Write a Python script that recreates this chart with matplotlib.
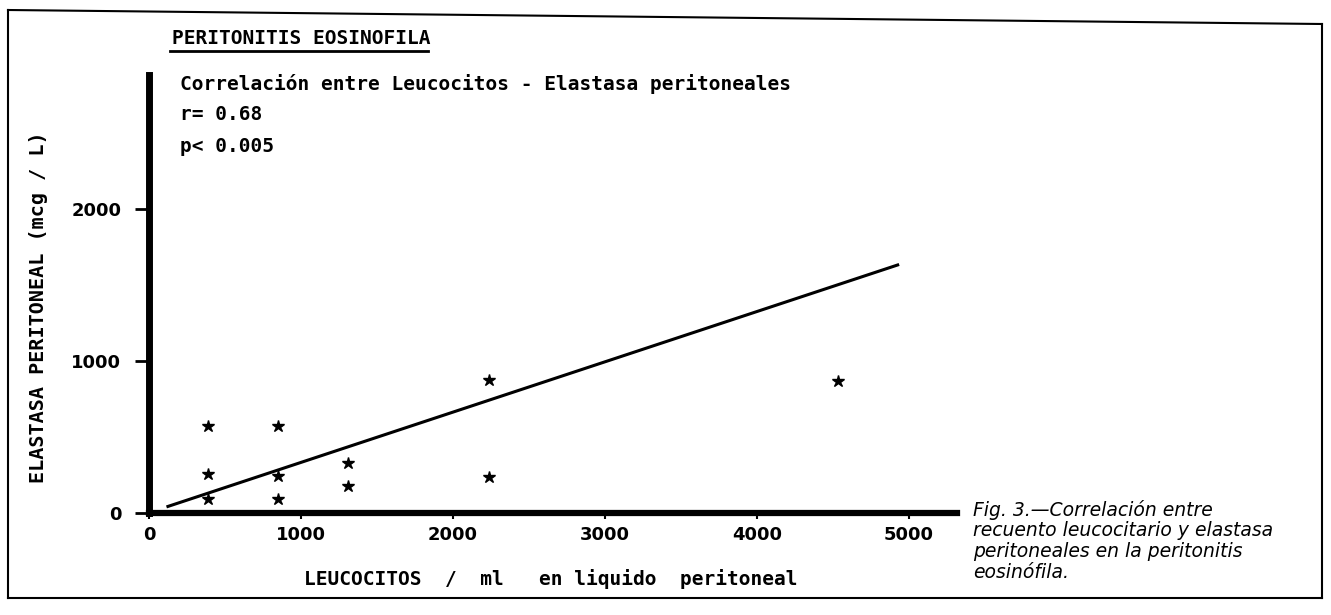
import matplotlib
matplotlib.use("Agg")
import matplotlib.pyplot as plt
from matplotlib.lines import Line2D

# leucocitos / ml vs elastasa peritoneal (mcg / L)
leucocitos = [390, 850, 390, 850, 1310, 390, 850, 1310, 2235, 2235, 4530]
elastasa = [570, 570, 255, 245, 330, 90, 90, 175, 875, 240, 870]

# regression line end points
fit_x = [115, 4935]
fit_y = [40, 1635]

x_ticks = [0, 1000, 2000, 3000, 4000, 5000]
y_ticks = [0, 1000, 2000]

caption_lines = ["Fig. 3.\u2014Correlación entre",
                 "recuento leucocitario y elastasa",
                 "peritoneales en la peritonitis",
                 "eosinófila."]

W, H = 1331, 615
MONO = "DejaVu Sans Mono"

fig = plt.figure(figsize=(W / 100, H / 100), dpi=100)
fig.patch.set_facecolor("white")


def px(x, y):
    # pixel coords (top-left origin) -> figure fraction
    return x / W, 1 - y / H


left, right, top, bottom = 149, 957, 75, 513
ax = fig.add_axes([left / W, 1 - bottom / H, (right - left) / W, (bottom - top) / H])

ax.plot(fit_x, fit_y, color="black", lw=2.2, solid_capstyle="butt")
ax.plot(leucocitos, elastasa, linestyle="None", marker="*", color="black",
        markersize=9)

ax.set_xlim(0, (right - left) / 0.152)
ax.set_ylim(0, (bottom - top) / 0.152)

for s in ["top", "right"]:
    ax.spines[s].set_visible(False)
ax.spines["left"].set_linewidth(5)
ax.spines["bottom"].set_linewidth(4.5)

ax.set_xticks(x_ticks)
ax.set_yticks(y_ticks)
ax.tick_params(axis="x", direction="out", length=4, width=1.5, pad=5, labelsize=13)
ax.tick_params(axis="y", direction="out", length=10, width=2, pad=10, labelsize=13)
for lab in ax.get_xticklabels() + ax.get_yticklabels():
    lab.set_fontweight("bold")
    lab.set_family("DejaVu Sans")

# texts
fig.text(*px(172, 38), "PERITONITIS EOSINOFILA", family=MONO, weight="bold",
         fontsize=14, va="center", ha="left")
fig.add_artist(Line2D([170 / W, 428 / W], [1 - 51 / H, 1 - 51 / H], color="black", lw=2))
fig.text(*px(180, 84), "Correlación entre Leucocitos - Elastasa peritoneales",
         family=MONO, weight="bold", fontsize=14, va="center", ha="left")
fig.text(*px(180, 115), "r= 0.68", family=MONO, weight="bold", fontsize=14,
         va="center", ha="left")
fig.text(*px(180, 147), "p< 0.005", family=MONO, weight="bold", fontsize=14,
         va="center", ha="left")

fig.text(*px(551, 579), "LEUCOCITOS  /  ml   en liquido  peritoneal",
         family=MONO, weight="bold", fontsize=14, va="center", ha="center")
fig.text(*px(39, 307), "ELASTASA PERITONEAL (mcg / L)", family=MONO,
         weight="bold", fontsize=14.5, rotation=90, va="center", ha="center")

for i, line in enumerate(caption_lines):
    fig.text(*px(973, 516 + i * 20.5), line, family="DejaVu Sans",
             style="italic", fontsize=13.5, va="baseline", ha="left")

# frame around the figure
frame = [((8, 10), (1322, 24)), ((8, 10), (8, 598)),
         ((1322, 24), (1322, 598)), ((8, 598), (1322, 598))]
for (x0, y0), (x1, y1) in frame:
    fig.add_artist(Line2D([x0 / W, x1 / W], [1 - y0 / H, 1 - y1 / H],
                          color="black", lw=1.5))

fig.savefig("out.png", dpi=100)
